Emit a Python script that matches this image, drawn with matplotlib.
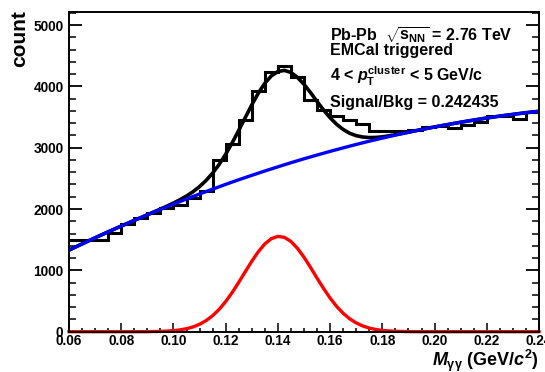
import numpy as np
import matplotlib
matplotlib.use('Agg')
import matplotlib.pyplot as plt
from matplotlib.ticker import MultipleLocator

plt.rcParams['font.family'] = ['Liberation Sans', 'DejaVu Sans']
plt.rcParams['font.weight'] = 'bold'
plt.rcParams['mathtext.fontset'] = 'custom'
plt.rcParams['mathtext.rm'] = 'Liberation Sans:bold'
plt.rcParams['mathtext.it'] = 'Liberation Sans:italic:bold'
plt.rcParams['mathtext.bf'] = 'Liberation Sans:bold'

# invariant mass histogram, 0.005 GeV/c^2 bins from 0.06 to 0.24
counts = [1500, 1500, 1500, 1610, 1760, 1860, 1930, 2020, 2060, 2180,
          2290, 2800, 3060, 3450, 3920, 4230, 4330, 4160, 3770, 3610,
          3510, 3450, 3380, 3270, 3270, 3280, 3290, 3340, 3360, 3320,
          3370, 3420, 3510, 3510, 3460, 3580]

# background fit, sampled every 0.005 from 0.06 to 0.24
fit_bkg = [1330, 1431, 1531, 1628, 1722, 1815, 1905, 1994, 2080, 2163,
           2245, 2324, 2402, 2477, 2549, 2620, 2688, 2755, 2819, 2880,
           2940, 2997, 3053, 3106, 3156, 3205, 3251, 3296, 3338, 3377,
           3415, 3450, 3484, 3515, 3543, 3570, 3594]

# signal and total fit: every 0.005 outside the peak, every 0.0025 in 0.0925-0.19
fit_sig = [0, 0, 0, 0, 0, 0, 1,
           3, 5, 10, 17, 30, 49, 78, 121, 181, 261,
           364, 491, 639, 805, 978, 1149, 1304, 1431, 1517, 1554,
           1538, 1471, 1359, 1214, 1048, 873, 704, 548, 412, 300,
           210, 143, 94, 59, 36, 21, 12, 7, 4, 2,
           0, 0, 0, 0, 0, 0, 0, 0, 0, 0]
fit_total = [1330, 1431, 1531, 1628, 1722, 1815, 1906,
             1953, 1999, 2047, 2097, 2152, 2212, 2282, 2366, 2466, 2585,
             2727, 2893, 3079, 3282, 3491, 3698, 3889, 4051, 4171, 4242,
             4260, 4226, 4146, 4033, 3898, 3753, 3614, 3488, 3381, 3297,
             3235, 3196, 3174, 3165, 3167, 3177, 3193, 3212, 3232, 3253,
             3296, 3338, 3377, 3415, 3450, 3484, 3515, 3543, 3570, 3594]

edges = np.linspace(0.06, 0.24, len(counts) + 1)
x_bkg = np.linspace(0.06, 0.24, len(fit_bkg))
x_peak = np.concatenate([np.linspace(0.06, 0.09, 7),
                         np.linspace(0.0925, 0.19, 40),
                         np.linspace(0.195, 0.24, 10)])

f = plt.figure(figsize=(5.45, 3.72), dpi=100)
ax = f.add_axes([69/545, 1 - 331.7/372, 470/545, 320/372])

ax.stairs(counts, edges, baseline=None, color='black', linewidth=2.2)
ax.plot(x_peak, fit_total, color='black', linewidth=2.6)
ax.plot(x_bkg, fit_bkg, color='blue', linewidth=2.4)
ax.plot(x_peak, fit_sig, color='red', linewidth=2.4, clip_on=False)

ax.set_xlim(0.06, 0.24)
ax.set_ylim(0, 5217)

ax.xaxis.set_major_locator(MultipleLocator(0.02))
ax.xaxis.set_minor_locator(MultipleLocator(0.005))
ax.yaxis.set_major_locator(MultipleLocator(1000))
ax.yaxis.set_minor_locator(MultipleLocator(200))
ax.xaxis.set_major_formatter(matplotlib.ticker.FormatStrFormatter('%.2f'))

ax.tick_params(axis='x', which='major', direction='in', length=6.5, width=1.1,
               labelsize=9.8, pad=2, top=False)
ax.tick_params(axis='x', which='minor', direction='in', length=3.2, width=1.1, top=False)
ax.tick_params(axis='y', which='major', direction='in', length=9.4, width=1.3,
               labelsize=9.8, pad=4, right=True)
ax.tick_params(axis='y', which='minor', direction='in', length=4.8, width=1.1, right=True)
for lab in ax.get_xticklabels() + ax.get_yticklabels():
    lab.set_fontweight('bold')
for s in ax.spines.values():
    s.set_linewidth(1.4)

f.text(20/545, 1 - 10/372, 'count', rotation=90, ha='center', va='top',
       fontsize=15, fontweight='bold')
f.text(539/545, 1 - 365.5/372, r'$\mathit{M}_{\mathrm{\gamma\gamma}}$ (GeV/$\mathit{c}^{2}$)',
       ha='right', va='baseline', fontsize=13, fontweight='bold')

tx = 330/545
fs = 11.5
f.text(tx, 1 - 40/372, r'Pb-Pb  $\sqrt{\mathrm{s}_{\mathrm{NN}}}$ = 2.76 TeV',
       ha='left', va='baseline', fontsize=fs, fontweight='bold')
f.text(tx, 1 - 55/372, 'EMCal triggered',
       ha='left', va='baseline', fontsize=fs, fontweight='bold')
f.text(tx, 1 - 81/372, r'4 < $\mathit{p}_{\mathrm{T}}^{\mathrm{cluster}}$ < 5 GeV/c',
       ha='left', va='baseline', fontsize=fs, fontweight='bold')
f.text(tx, 1 - 107/372, 'Signal/Bkg = 0.242435',
       ha='left', va='baseline', fontsize=fs, fontweight='bold')

f.savefig('out.png', dpi=100)
